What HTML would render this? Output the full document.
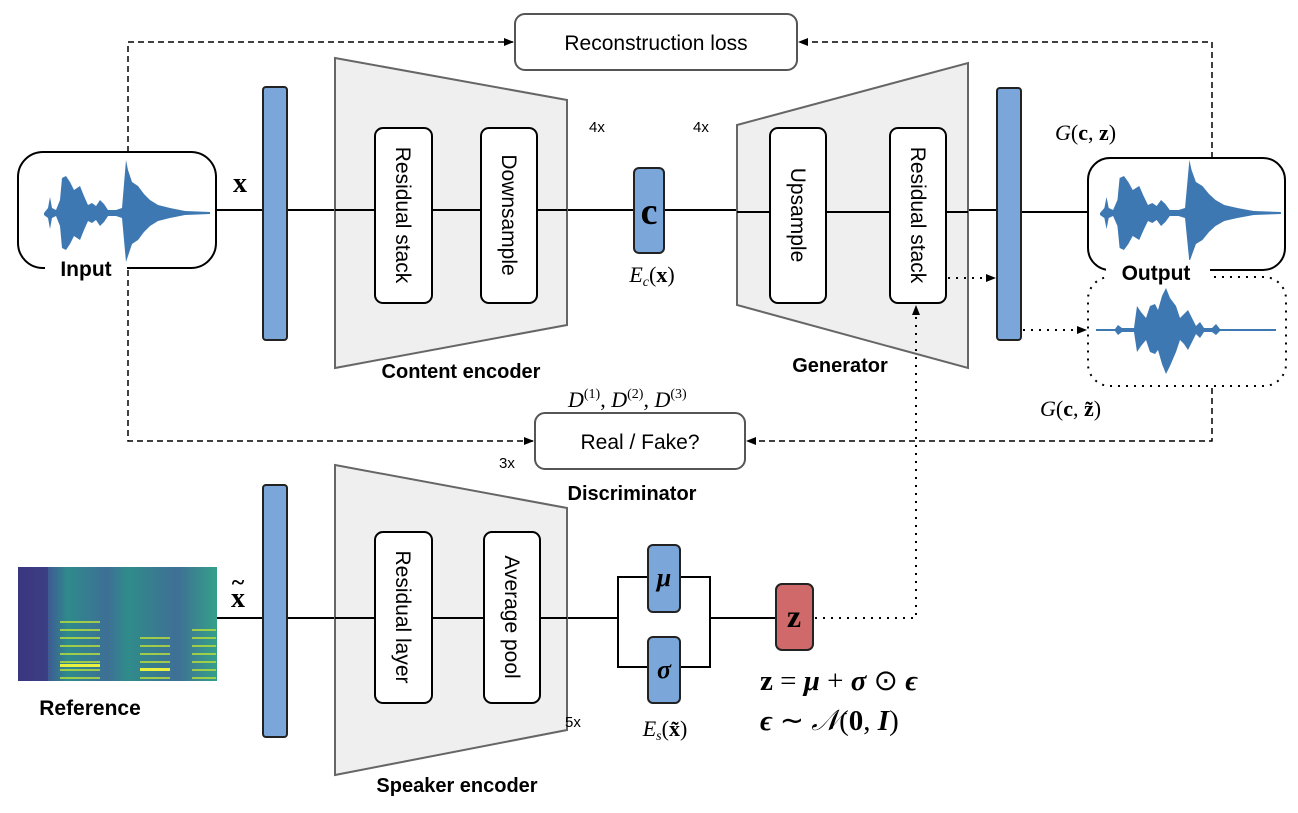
<!DOCTYPE html>
<html><head><meta charset="utf-8"><style>
html,body{margin:0;padding:0;background:#fff;}
svg text{font-family:"Liberation Sans",sans-serif;}
svg text.m, svg .m text{font-family:"Liberation Serif",serif;}
</style></head><body>
<svg width="1298" height="808" viewBox="0 0 1298 808" xmlns="http://www.w3.org/2000/svg">
<defs>
<marker id="ar" markerWidth="10" markerHeight="8" refX="9" refY="4" orient="auto" markerUnits="userSpaceOnUse">
<path d="M0,0 L10,4 L0,8 z" fill="#000"/></marker>
<linearGradient id="sp" x1="0" x2="1" y1="0" y2="0">
<stop offset="0" stop-color="#3b3f8a"/><stop offset="0.15" stop-color="#3e5a93"/>
<stop offset="0.25" stop-color="#2f8a8c"/><stop offset="0.45" stop-color="#3e6f95"/>
<stop offset="0.55" stop-color="#2f8c8a"/><stop offset="0.8" stop-color="#3f6f95"/>
<stop offset="1" stop-color="#35a08a"/></linearGradient>
<pattern id="harm" width="200" height="8" patternUnits="userSpaceOnUse">
<rect y="5" width="200" height="2" fill="#b8df3a" opacity="0.8"/></pattern>
<path id="wav" d="M44,213 L48,208 L50,197 L52,208 L56,210 L60,200 L62,178 L66,176 L70,182 L74,190 L80,186 L84,196 L88,205 L92,203 L96,206 L100,200 L104,204 L108,210 L116,210 L122,208 L126,160 L128,170 L132,182 L138,186 L144,194 L150,200 L158,205 L170,208 L185,211 L210,212 L210,214 L185,215 L170,218 L158,221 L150,226 L144,232 L138,240 L132,244 L128,256 L126,262 L122,218 L116,216 L108,216 L104,222 L100,226 L96,220 L92,223 L88,221 L84,230 L80,240 L74,236 L70,244 L66,250 L62,248 L60,226 L56,216 L52,218 L50,229 L48,218 L44,215 z" fill="#3e78b2"/>
</defs>

<!-- dashed loss paths -->
<g fill="none" stroke="#000" stroke-width="1.5" stroke-dasharray="6,4">
<path d="M128,152 V42 H513" marker-end="url(#ar)"/>
<path d="M1212,158 V42 H799" marker-end="url(#ar)"/>
<path d="M128,270 V441 H533" marker-end="url(#ar)"/>
<path d="M1212,388 V441 H747" marker-end="url(#ar)"/>
</g>

<!-- solid lines -->
<g stroke="#000" stroke-width="2" fill="none">
<path d="M216,210 H263 M287,210 H335 M567,210 H634 M664,210 H737 M968,210 H997 M1021,212 H1088"/>
<path d="M216,618 H263 M287,618 H335 M567,618 H618 V577 H648 M618,618 V667 H648 M680,577 H710 V667 H680 M710,618 H776"/>
</g>

<!-- boxes top -->
<rect x="515" y="14" width="282" height="56" rx="10" fill="#fff" stroke="#555" stroke-width="2"/>
<text x="656" y="50" font-size="21" text-anchor="middle">Reconstruction loss</text>
<rect x="535" y="413" width="210" height="56" rx="10" fill="#fff" stroke="#555" stroke-width="2"/>
<text x="640" y="449" font-size="21" text-anchor="middle">Real / Fake?</text>

<!-- input box -->
<rect x="18" y="152" width="198" height="116" rx="25" fill="#fff" stroke="#000" stroke-width="2"/>
<rect x="45" y="258" width="82" height="20" fill="#fff"/>
<use href="#wav"/>
<text x="86" y="276" font-size="21" font-weight="bold" text-anchor="middle">Input</text>
<text x="240" y="192" font-size="28" font-weight="bold" class="m" text-anchor="middle">x</text>

<!-- output box -->
<rect x="1088" y="158" width="197" height="112" rx="22" fill="#fff" stroke="#000" stroke-width="2"/>
<use href="#wav" transform="translate(1100,0) scale(1.09,1) translate(-44,0)"/>
<rect x="1088" y="277" width="198" height="109" rx="22" fill="none" stroke="#000" stroke-width="2" stroke-dasharray="2,6"/>
<rect x="1106" y="260" width="104" height="26" fill="#fff"/>
<text x="1156" y="280" font-size="21" font-weight="bold" text-anchor="middle">Output</text>
<path d="M1096,329 L1115,329 L1118,325 L1122,328 L1134,328 L1137,306 L1141,312 L1146,318 L1150,306 L1155,304 L1158,310 L1162,296 L1166,288 L1170,298 L1176,306 L1180,318 L1184,314 L1188,310 L1192,318 L1196,326 L1200,322 L1204,328 L1212,328 L1216,324 L1220,329 L1276,329 L1276,331 L1220,331 L1216,335 L1212,332 L1204,332 L1200,338 L1196,334 L1192,342 L1188,350 L1184,344 L1180,340 L1176,352 L1170,366 L1166,374 L1162,364 L1158,350 L1155,354 L1150,352 L1146,340 L1141,346 L1137,352 L1134,332 L1122,332 L1118,335 L1115,331 L1096,331 z" fill="#3e78b2"/>

<!-- bars -->
<g fill="#7aa6d9" stroke="#222" stroke-width="2">
<rect x="263" y="87" width="24" height="253" rx="3"/>
<rect x="997" y="88" width="24" height="252" rx="3"/>
<rect x="263" y="485" width="24" height="252" rx="3"/>
<rect x="634" y="168" width="30" height="85" rx="5"/>
<rect x="648" y="545" width="32" height="67" rx="5"/>
<rect x="648" y="637" width="32" height="66" rx="5"/>
</g>
<rect x="776" y="584" width="37" height="66" rx="6" fill="#d06a6a" stroke="#222" stroke-width="2"/>

<!-- trapezoids -->
<g fill="#efefef" stroke="#666" stroke-width="2">
<path d="M335,58 L567,100 L567,325 L335,368 z"/>
<path d="M737,125 L968,63 L968,368 L737,305 z"/>
<path d="M335,465 L567,508 L567,730 L335,775 z"/>
</g>
<g stroke="#000" stroke-width="2" fill="none">
<path d="M335,210 H375 M432,210 H481 M537,210 H567 M737,212 H770 M826,212 H890 M946,212 H968"/>
<path d="M335,618 H375 M432,618 H484 M540,618 H567"/>
</g>
<g fill="#fff" stroke="#000" stroke-width="2">
<rect x="375" y="128" width="57" height="175" rx="8"/>
<rect x="481" y="128" width="56" height="175" rx="8"/>
<rect x="770" y="128" width="56" height="175" rx="8"/>
<rect x="890" y="128" width="56" height="175" rx="8"/>
<rect x="375" y="532" width="57" height="171" rx="8"/>
<rect x="484" y="532" width="56" height="171" rx="8"/>
</g>
<g font-size="21" text-anchor="middle">
<text transform="translate(403,215) rotate(90)" dy="7">Residual stack</text>
<text transform="translate(509,215) rotate(90)" dy="7">Downsample</text>
<text transform="translate(798,215) rotate(90)" dy="7">Upsample</text>
<text transform="translate(918,215) rotate(90)" dy="7">Residual stack</text>
<text transform="translate(403,617) rotate(90)" dy="7">Residual layer</text>
<text transform="translate(512,617) rotate(90)" dy="7">Average pool</text>
</g>

<!-- dotted paths -->
<g fill="none" stroke="#000" stroke-width="2" stroke-dasharray="2,6">
<path d="M948,278 H995" marker-end="url(#ar)"/>
<path d="M1023,330 H1086" marker-end="url(#ar)"/>
<path d="M815,618 H916 V306" marker-end="url(#ar)"/>
</g>

<!-- spectrogram -->
<rect x="18" y="567" width="199" height="114" fill="url(#sp)"/>
<rect x="18" y="567" width="30" height="114" fill="#3a2f78" opacity="0.6"/>
<rect x="60" y="620" width="40" height="60" fill="url(#harm)"/>
<rect x="140" y="635" width="30" height="45" fill="url(#harm)"/>
<rect x="192" y="625" width="24" height="55" fill="url(#harm)"/>
<rect x="60" y="664" width="40" height="3" fill="#e8f040"/>
<rect x="140" y="668" width="30" height="3" fill="#e8f040"/>
<text x="90" y="715" font-size="21" font-weight="bold" text-anchor="middle">Reference</text>
<text x="238" y="607" font-size="28" font-weight="bold" class="m" text-anchor="middle">x</text>
<text x="238" y="590" font-size="24" font-weight="bold" class="m" text-anchor="middle">~</text>

<!-- labels -->
<g font-size="15">
<text x="589" y="132">4x</text>
<text x="693" y="132">4x</text>
<text x="499" y="468">3x</text>
<text x="565" y="727">5x</text>
</g>
<g font-size="20" font-weight="bold" text-anchor="middle">
<text x="461" y="378">Content encoder</text>
<text x="840" y="372">Generator</text>
<text x="632" y="500">Discriminator</text>
<text x="457" y="792">Speaker encoder</text>
</g>
<g class="m" font-size="22">
<text x="649" y="224" font-size="38" font-weight="bold" text-anchor="middle">c</text>
<text x="652" y="282" text-anchor="middle"><tspan font-style="italic">E</tspan><tspan font-size="14" dy="4" font-style="italic">c</tspan><tspan dy="-4">(</tspan><tspan font-weight="bold">x</tspan>)</text>
<text x="1055" y="140"><tspan font-style="italic">G</tspan>(<tspan font-weight="bold">c</tspan>, <tspan font-weight="bold">z</tspan>)</text>
<text x="1040" y="416"><tspan font-style="italic">G</tspan>(<tspan font-weight="bold">c</tspan>, <tspan font-weight="bold">z̃</tspan>)</text>
<text x="568" y="407"><tspan font-style="italic">D</tspan><tspan font-size="14" dy="-9">(1)</tspan><tspan dy="9">, </tspan><tspan font-style="italic">D</tspan><tspan font-size="14" dy="-9">(2)</tspan><tspan dy="9">, </tspan><tspan font-style="italic">D</tspan><tspan font-size="14" dy="-9">(3)</tspan></text>
<text x="664" y="586" font-size="26" font-weight="bold" font-style="italic" text-anchor="middle">μ</text>
<text x="664" y="678" font-size="26" font-weight="bold" font-style="italic" text-anchor="middle">σ</text>
<text x="794" y="627" font-size="32" font-weight="bold" text-anchor="middle">z</text>
<text x="665" y="736" text-anchor="middle"><tspan font-style="italic">E</tspan><tspan font-size="14" dy="4" font-style="italic">s</tspan><tspan dy="-4">(</tspan><tspan font-weight="bold">x̃</tspan>)</text>
<text x="760" y="690" font-size="29"><tspan font-weight="bold">z</tspan> = <tspan font-weight="bold" font-style="italic">μ</tspan> + <tspan font-weight="bold" font-style="italic">σ</tspan> ⊙ <tspan font-weight="bold" font-style="italic">ϵ</tspan></text>
<text x="760" y="730" font-size="29"><tspan font-weight="bold" font-style="italic">ϵ</tspan> ∼ <tspan font-style="italic">𝒩</tspan>(<tspan font-weight="bold">0</tspan>, <tspan font-weight="bold" font-style="italic">I</tspan>)</text>
</g>
</svg>
</body></html>
